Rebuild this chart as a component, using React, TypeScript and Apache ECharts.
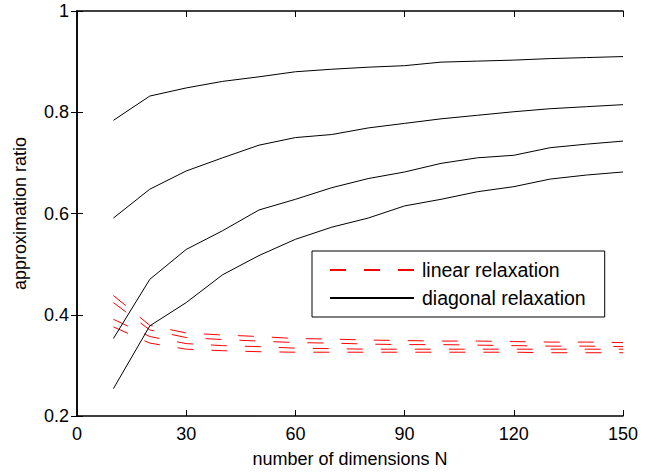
import React, { useEffect, useRef } from "react";
import * as echarts from "echarts";

const dims = [10, 20, 30, 40, 50, 60, 70, 80, 90, 100, 110, 120, 130, 140, 150];

const diag1 = [0.784, 0.832, 0.848, 0.861, 0.870, 0.880, 0.885, 0.889, 0.892, 0.899, 0.901, 0.903, 0.906, 0.908, 0.910];
const diag2 = [0.591, 0.648, 0.684, 0.710, 0.735, 0.750, 0.756, 0.769, 0.778, 0.787, 0.794, 0.801, 0.807, 0.811, 0.815];
const diag3 = [0.353, 0.470, 0.529, 0.566, 0.607, 0.628, 0.651, 0.669, 0.682, 0.699, 0.710, 0.715, 0.730, 0.737, 0.743];
const diag4 = [0.254, 0.378, 0.424, 0.479, 0.517, 0.549, 0.573, 0.591, 0.615, 0.628, 0.643, 0.653, 0.668, 0.676, 0.682];

const lin1 = [0.438, 0.379, 0.364, 0.360, 0.357, 0.353, 0.352, 0.350, 0.349, 0.348, 0.348, 0.347, 0.346, 0.346, 0.345];
const lin2 = [0.424, 0.370, 0.355, 0.351, 0.348, 0.345, 0.344, 0.342, 0.341, 0.341, 0.340, 0.339, 0.338, 0.338, 0.337];
const lin3 = [0.391, 0.357, 0.343, 0.339, 0.337, 0.334, 0.333, 0.332, 0.332, 0.332, 0.332, 0.332, 0.332, 0.332, 0.332];
const lin4 = [0.376, 0.344, 0.332, 0.329, 0.327, 0.326, 0.326, 0.326, 0.326, 0.326, 0.326, 0.326, 0.325, 0.325, 0.325];

const linearName = "linear relaxation";
const diagonalName = "diagonal relaxation";
const xTitle = "number of dimensions N";
const yTitle = "approximation ratio";

const FONT = "'Liberation Sans', Arial, Helvetica, sans-serif";

export default function App() {
  const ref = useRef<HTMLDivElement>(null);

  useEffect(() => {
    if (!ref.current) return;
    const chart = echarts.init(ref.current, undefined, { renderer: "svg" });
    const toPts = (ys: number[]) => dims.map((x, i) => [x, ys[i]]);
    const linSeries = [lin1, lin2, lin3, lin4].map((ys) => ({
      name: linearName,
      type: "line",
      data: toPts(ys),
      symbol: "none",
      lineStyle: { color: "#ff0000", width: 1, type: [16, 18] },
      itemStyle: { color: "#ff0000" },
      z: 2,
    }));
    const diagSeries = [diag1, diag2, diag3, diag4].map((ys) => ({
      name: diagonalName,
      type: "line",
      data: toPts(ys),
      symbol: "none",
      lineStyle: { color: "#000000", width: 1, type: "solid" },
      itemStyle: { color: "#000000" },
      z: 3,
    }));
    const axisLine = { show: true, lineStyle: { color: "#000", width: 1.5 } };
    const tick = { show: true, inside: true, length: 6, lineStyle: { color: "#000", width: 1 } };
    chart.setOption({
      animation: false,
      backgroundColor: "#ffffff",
      textStyle: { fontFamily: FONT },
      grid: { left: 77, right: 32, top: 11, bottom: 55, containLabel: false },
      legend: {
        data: [linearName, diagonalName],
        orient: "vertical",
        left: 312,
        top: 251,
        itemWidth: 84,
        itemHeight: 14,
        itemGap: 8,
        padding: [9, 19, 9, 17],
        borderColor: "#000",
        borderWidth: 1,
        backgroundColor: "#fff",
        selectedMode: false,
        itemStyle: { opacity: 0 },
        lineStyle: { inactiveWidth: 1 },
        textStyle: { fontSize: 19.5, color: "#000", fontFamily: FONT, lineHeight: 20, padding: [0, 0, 0, 3] },
      },
      xAxis: [
        {
          type: "value",
          min: 0,
          max: 150,
          interval: 30,
          name: xTitle,
          nameLocation: "middle",
          nameGap: 34,
          nameTextStyle: { fontSize: 18, color: "#000", fontFamily: FONT },
          axisLine,
          axisTick: tick,
          axisLabel: { fontSize: 18, color: "#000", margin: 9, fontFamily: FONT },
          splitLine: { show: false },
        },
        {
          type: "value",
          position: "top",
          min: 0,
          max: 150,
          interval: 30,
          axisLine,
          axisTick: tick,
          axisLabel: { show: false },
          splitLine: { show: false },
        },
      ],
      yAxis: [
        {
          type: "value",
          min: 0.2,
          max: 1,
          interval: 0.2,
          name: yTitle,
          nameLocation: "middle",
          nameGap: 48,
          nameTextStyle: { fontSize: 18, color: "#000", fontFamily: FONT },
          axisLine,
          axisTick: tick,
          axisLabel: { fontSize: 18, color: "#000", margin: 8, fontFamily: FONT },
          splitLine: { show: false },
        },
        {
          type: "value",
          position: "right",
          min: 0.2,
          max: 1,
          interval: 0.2,
          axisLine,
          axisTick: tick,
          axisLabel: { show: false },
          splitLine: { show: false },
        },
      ],
      series: [...linSeries, ...diagSeries],
    });
    return () => chart.dispose();
  }, []);

  return (
    <div
      ref={ref}
      style={{ position: "absolute", left: 0, top: 0, width: 655, height: 473 }}
    />
  );
}
